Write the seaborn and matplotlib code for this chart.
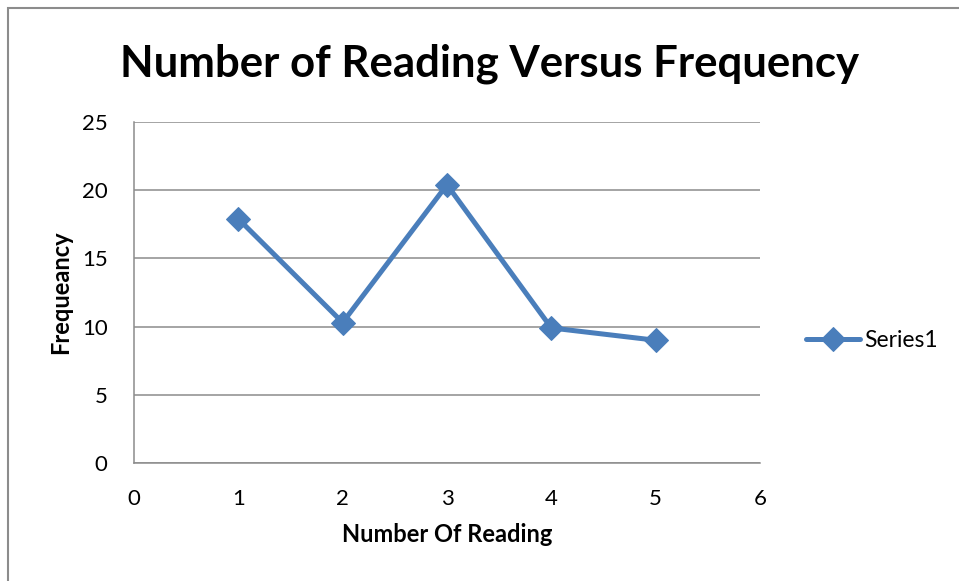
import matplotlib
matplotlib.use("Agg")
import matplotlib.pyplot as plt
import seaborn as sns
import pandas as pd
from matplotlib.patches import Rectangle

sns.set_style("white")
plt.rcParams['font.family'] = ['Lato', 'DejaVu Sans']
plt.rcParams['text.color'] = 'black'
plt.rcParams['axes.labelcolor'] = 'black'

# data
readings = [1, 2, 3, 4, 5]
frequency = [17.9, 10.3, 20.4, 9.9, 9.0]
series_name = "Series1"

df = pd.DataFrame({'reading': readings, 'frequency': frequency, 'series': series_name})

fig = plt.figure(figsize=(9.59, 5.81), dpi=100)
ax = fig.add_axes([0.1397, 0.2031, 0.6528, 0.5869])

blue = '#4a7ebb'
sns.lineplot(data=df, x='reading', y='frequency', hue='series', palette=[blue],
             marker='D', markersize=12, markeredgecolor=blue, linewidth=3.6, ax=ax)

ax.set_xlim(0, 6)
ax.set_ylim(0, 25)
ax.set_xticks(range(0, 7))
ax.set_yticks(range(0, 26, 5))
ax.yaxis.grid(True, color='#8c8c8c', linewidth=1.1)
ax.set_axisbelow(True)
for s in ['top', 'right']:
    ax.spines[s].set_visible(False)
for s in ['left', 'bottom']:
    ax.spines[s].set_color('#8c8c8c')
    ax.spines[s].set_linewidth(1.1)
ax.tick_params(axis='both', labelsize=16, length=0, pad=19, colors='black')

ax.set_xlabel('Number Of Reading', fontsize=17, fontweight='bold', labelpad=10, color='black')
ax.set_ylabel('Frequeancy', fontsize=17, fontweight='bold', labelpad=7, color='black')
fig.suptitle('Number of Reading Versus Frequency', x=0.51, y=0.89, va='center',
             fontsize=31.5, fontweight='bold', color='black')

leg = ax.legend(loc='center left', bbox_to_anchor=(1.0735, 0.36), frameon=False,
                fontsize=16.5, handlelength=2.35, handletextpad=0.2,
                borderpad=0, borderaxespad=0)
for t in leg.get_texts():
    t.set_color('black')

# outer chart border
fig.patches.append(Rectangle((8 / 959, -0.01), 1.0, 1 - 8 / 581 + 0.01,
                             transform=fig.transFigure, fill=False,
                             edgecolor='#8c8c8c', linewidth=1.5))

fig.savefig('out.png', dpi=100)
